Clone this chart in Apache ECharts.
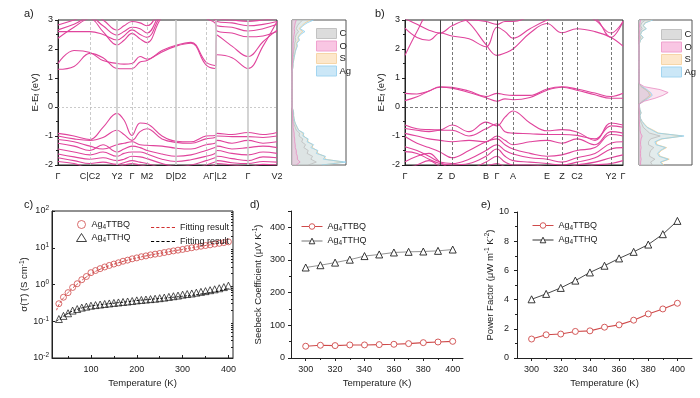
<!DOCTYPE html>
<html>
<head>
<meta charset="utf-8">
<script src="https://cdn.jsdelivr.net/npm/echarts@6.0.0/dist/echarts.min.js"></script>
<style>
  html, body { margin: 0; padding: 0; background: #fff; }
  #chart { width: 700px; height: 398px; }
</style>
</head>
<body>
<div id="chart"></div>
<script>
// ---- a) band structure + DOS ----
var kA = [0, 16, 32, 45, 59, 66, 74, 82, 89, 104, 118, 133, 148, 157, 159, 174, 190, 205, 219];
var kTicksA = [0, 32, 59, 74, 89, 118, 157, 190, 219];
var kNamesA = ['Γ', 'C|C2', 'Y2', 'Γ', 'M2', 'D|D2', 'AΓ|L2', 'Γ', 'V2'];
var kLinesA = [32, 59, 74, 89, 118, 148, 158, 190];
var kSolidA = [0, 1, 0, 0, 1, 0, 1, 1];
var bandsA = [
  [1.30, 1.40, 1.85, 1.70, 1.33, 1.32, 1.32, 1.55, 1.60, 1.90, 2.10, 2.20, 1.45, 1.33, 1.80, 1.70, 1.33, 2.10, 2.95],
  [1.50, 1.95, 1.88, 1.60, 1.50, 1.48, 1.50, 1.74, 1.65, 1.95, 2.13, 2.23, 1.55, 1.43, 2.48, 2.10, 1.74, 2.25, 2.65],
  [2.37, 2.75, 3.05, 2.60, 2.14, 2.30, 2.54, 2.35, 2.22, 3.10, 3.30, 3.30, 3.05, 2.90, 2.62, 2.55, 2.42, 2.45, 2.60],
  [2.60, 2.60, 2.60, 2.50, 2.31, 2.45, 2.66, 2.50, 2.40, 3.20, 3.40, 3.40, 3.20, 3.00, 2.80, 2.75, 2.62, 2.70, 2.85],
  [2.66, 2.85, 3.10, 2.80, 2.48, 2.60, 2.75, 2.70, 2.55, 3.30, 3.50, 3.50, 3.30, 3.10, 2.95, 2.90, 2.80, 2.85, 2.95],
  [2.83, 3.00, 3.20, 3.00, 2.65, 2.80, 2.95, 2.90, 2.80, 3.40, 3.60, 3.60, 3.40, 3.20, 3.05, 3.00, 2.95, 3.00, 3.05],
  [-0.91, -1.00, -1.12, -0.70, -0.22, -0.45, -0.98, -0.55, -0.58, -1.00, -1.18, -1.20, -1.00, -0.98, -0.91, -0.95, -0.88, -0.95, -0.88],
  [-1.00, -1.10, -1.15, -1.05, -0.80, -0.95, -1.15, -0.85, -0.75, -1.10, -1.22, -1.25, -1.10, -1.05, -1.00, -1.02, -1.02, -1.05, -1.00],
  [-1.12, -1.20, -1.35, -1.45, -1.30, -1.25, -1.20, -1.30, -1.32, -1.35, -1.42, -1.45, -1.30, -1.25, -1.15, -1.25, -1.15, -1.25, -1.20],
  [-1.25, -1.35, -1.50, -1.30, -1.55, -1.45, -1.35, -1.40, -1.50, -1.62, -1.70, -1.65, -1.50, -1.40, -1.35, -1.45, -1.40, -1.35, -1.40],
  [-1.45, -1.55, -1.65, -1.55, -1.70, -1.60, -1.55, -1.55, -1.62, -1.80, -1.88, -1.82, -1.70, -1.60, -1.50, -1.60, -1.65, -1.55, -1.60],
  [-1.62, -1.72, -1.80, -1.75, -1.85, -1.80, -1.70, -1.72, -1.78, -1.95, -2.05, -2.00, -1.85, -1.75, -1.70, -1.78, -1.85, -1.72, -1.75],
  [-1.75, -1.85, -1.95, -1.90, -1.98, -1.92, -1.85, -1.90, -1.95, -2.10, -2.20, -2.15, -2.00, -1.90, -1.85, -1.92, -1.95, -1.88, -1.90],
  [-1.88, -1.95, -2.10, -2.05, -2.05, -2.00, -1.95, -2.00, -2.05, -2.20, -2.30, -2.25, -2.10, -2.00, -1.95, -2.00, -2.05, -1.98, -2.00]
];

// ---- b) band structure + DOS ----
var kB = [0, 12, 24, 35, 47, 64, 81, 92, 100, 108, 125, 142, 157, 172, 190, 206, 218];
var kTicksB = [0, 35, 47, 81, 92, 108, 142, 157, 172, 206, 218];
var kNamesB = ['Γ', 'Z', 'D', 'B', 'Γ', 'A', 'E', 'Z', 'C2', 'Y2', 'Γ'];
var kLinesB = [35, 47, 81, 92, 108, 142, 157, 172, 206];
var kSolidB = [1, 0, 0, 1, 0, 0, 0, 0, 0];
var bandsB = [
  [1.78, 2.60, 3.30, 3.40, 3.30, 2.90, 2.15, 1.78, 1.86, 2.00, 2.55, 2.88, 2.56, 2.70, 2.60, 2.40, 2.10],
  [2.72, 2.40, 2.30, 2.55, 2.45, 2.35, 2.08, 2.75, 2.60, 2.37, 2.70, 3.00, 3.20, 3.20, 3.00, 2.55, 2.95],
  [3.05, 2.85, 2.65, 2.55, 2.80, 3.00, 2.95, 2.85, 2.95, 2.95, 3.10, 3.20, 3.30, 3.30, 3.10, 2.40, 2.95],
  [0.47, 0.45, 0.55, 0.70, 0.68, 0.55, 0.36, 0.47, 0.42, 0.40, 0.40, 0.62, 0.70, 0.62, 0.48, 0.36, 0.47],
  [0.22, 0.35, 0.55, 0.68, 0.65, 0.50, 0.32, 0.20, 0.28, 0.25, 0.33, 0.58, 0.68, 0.58, 0.42, 0.30, 0.30],
  [-0.62, -0.75, -0.78, -0.79, -0.62, -0.85, -0.52, -0.65, -0.35, -0.14, -0.55, -0.82, -0.78, -0.86, -1.15, -0.55, -0.62],
  [-0.74, -0.80, -0.85, -0.80, -0.80, -1.00, -0.75, -0.58, -0.85, -0.90, -0.92, -0.95, -0.95, -0.98, -1.10, -0.65, -0.70],
  [-0.91, -1.00, -1.10, -1.15, -1.20, -1.15, -1.20, -1.00, -1.15, -1.30, -1.20, -1.15, -1.25, -1.10, -1.30, -0.85, -0.90],
  [-1.02, -1.25, -1.40, -1.55, -1.75, -1.50, -1.20, -1.10, -1.30, -1.45, -1.60, -1.70, -1.65, -1.50, -1.40, -0.95, -1.00],
  [-1.37, -1.50, -1.70, -1.90, -1.95, -1.80, -1.50, -1.30, -1.50, -1.62, -1.75, -1.80, -1.90, -1.75, -1.60, -1.25, -1.20],
  [-1.54, -1.60, -1.80, -1.95, -2.00, -1.95, -1.70, -1.45, -1.70, -1.85, -1.90, -1.95, -2.00, -1.90, -1.75, -1.45, -1.40],
  [-1.89, -1.70, -1.60, -1.90, -2.10, -2.10, -1.90, -1.70, -1.90, -2.00, -2.00, -2.05, -2.10, -2.00, -1.90, -1.75, -1.65],
  [-2.10, -2.00, -1.85, -2.05, -2.20, -2.20, -2.05, -1.95, -2.05, -2.10, -2.10, -2.15, -2.20, -2.10, -2.00, -1.95, -1.85]
];

// DOS energy grid (eV) and projected DOS (% of panel width)
var dosE = [-2.0, -1.9, -1.8, -1.7, -1.6, -1.5, -1.4, -1.3, -1.2, -1.1, -1.0, -0.9, -0.8, -0.7, -0.6, -0.5, -0.4, -0.3, -0.2, -0.1,
  0.0, 0.1, 0.2, 0.3, 0.4, 0.5, 0.6, 0.7, 0.8, 0.9, 1.0, 1.1, 1.2, 1.3, 1.4, 1.5, 1.6, 1.7, 1.8, 1.9,
  2.0, 2.1, 2.2, 2.3, 2.4, 2.5, 2.6, 2.7, 2.8, 2.9, 3.0];
var dosAgA = [55, 100, 58, 62, 45, 48, 35, 40, 28, 30, 20, 22, 12, 10, 7, 5, 4, 3, 3, 2, 0, 0, 0, 0, 0, 0, 0, 0, 0, 0, 0, 0, 0, 1, 2, 2, 3, 4, 5, 6, 8, 10, 9, 14, 12, 16, 24, 15, 20, 28, 40];
var dosCA = [30, 45, 35, 38, 28, 30, 22, 25, 18, 20, 13, 14, 8, 6, 4, 3, 2, 2, 2, 1, 0, 0, 0, 0, 0, 0, 0, 0, 0, 0, 0, 0, 0, 0, 1, 1, 2, 2, 3, 3, 4, 5, 5, 7, 6, 8, 12, 8, 10, 14, 20];
var dosOA = [8, 15, 10, 10, 8, 8, 6, 6, 5, 5, 4, 4, 3, 2, 2, 1, 1, 1, 1, 0, 0, 0, 0, 0, 0, 0, 0, 0, 0, 0, 0, 0, 0, 0, 0, 1, 1, 1, 1, 2, 2, 2, 2, 3, 3, 4, 5, 4, 5, 6, 8];
var dosSA = [58, 95, 62, 60, 48, 46, 38, 38, 30, 28, 22, 20, 13, 9, 7, 5, 4, 3, 3, 2, 0, 0, 0, 0, 0, 0, 0, 0, 0, 0, 0, 0, 0, 1, 2, 2, 3, 4, 5, 6, 7, 9, 8, 12, 11, 14, 20, 13, 18, 24, 34];
var dosAgB = [45, 40, 55, 38, 35, 40, 50, 32, 30, 42, 85, 35, 25, 15, 10, 6, 3, 2, 4, 2, 1, 1, 8, 18, 25, 22, 15, 6, 1, 0, 0, 0, 0, 0, 0, 0, 0, 0, 0, 0, 0, 0, 1, 3, 8, 3, 5, 14, 8, 12, 26];
var dosCB = [25, 22, 30, 20, 20, 22, 28, 18, 18, 22, 40, 20, 14, 8, 6, 3, 2, 1, 2, 1, 0, 0, 6, 14, 20, 18, 12, 4, 0, 0, 0, 0, 0, 0, 0, 0, 0, 0, 0, 0, 0, 0, 0, 1, 3, 1, 2, 6, 3, 5, 12];
var dosOB = [3, 3, 4, 3, 3, 3, 4, 3, 3, 4, 6, 3, 2, 2, 1, 1, 0, 0, 1, 0, 0, 0, 10, 30, 45, 55, 40, 10, 1, 0, 0, 0, 0, 0, 0, 0, 0, 0, 0, 0, 0, 0, 0, 0, 1, 0, 1, 2, 1, 2, 3];
var dosSB = [47, 42, 57, 40, 37, 42, 52, 34, 32, 44, 82, 37, 27, 16, 11, 6, 3, 2, 4, 2, 1, 1, 8, 16, 22, 20, 13, 5, 1, 0, 0, 0, 0, 0, 0, 0, 0, 0, 0, 0, 0, 0, 1, 3, 7, 3, 5, 13, 8, 11, 24];

// ---- c) conductivity vs temperature ----
var tempC = [30, 40, 50, 60, 70, 80, 90, 100, 110, 120, 130, 140, 150, 160, 170, 180, 190, 200, 210, 220,
  230, 240, 250, 260, 270, 280, 290, 300, 310, 320, 330, 340, 350, 360, 370, 380, 390, 400];
var sigmaBQ = [0.3, 0.45, 0.6, 0.83, 1.05, 1.35, 1.65, 2.1, 2.4, 2.7, 3.0, 3.3, 3.6, 3.9, 4.3, 4.6, 5.0, 5.3, 5.7, 6.0,
  6.4, 6.7, 7.0, 7.4, 7.8, 8.2, 8.6, 9.0, 9.5, 10.0, 10.5, 11.0, 11.5, 12.0, 12.6, 13.2, 13.8, 14.5];
var sigmaHQ = [0.115, 0.14, 0.165, 0.195, 0.215, 0.235, 0.25, 0.265, 0.275, 0.285, 0.295, 0.305, 0.315, 0.325, 0.335, 0.345, 0.355, 0.37, 0.38, 0.39,
  0.40, 0.41, 0.425, 0.44, 0.46, 0.48, 0.50, 0.53, 0.55, 0.57, 0.60, 0.63, 0.66, 0.70, 0.74, 0.79, 0.85, 0.93];
var fitT = [25, 30, 40, 50, 60, 70, 80, 90, 100, 120, 140, 160, 180, 200, 220, 240, 260, 280, 300, 320, 340, 360, 380, 400];
var fitBQ = [0.2, 0.28, 0.43, 0.6, 0.8, 1.02, 1.3, 1.6, 1.95, 2.6, 3.25, 3.9, 4.6, 5.3, 6.0, 6.7, 7.4, 8.2, 9.0, 10.0, 11.0, 12.0, 13.1, 14.3];
var fitHQ = [0.1, 0.112, 0.138, 0.163, 0.19, 0.21, 0.23, 0.245, 0.26, 0.28, 0.3, 0.32, 0.34, 0.365, 0.385, 0.405, 0.425, 0.45, 0.48, 0.51, 0.55, 0.6, 0.67, 0.78];

// ---- d) Seebeck, e) power factor ----
var tempDE = [300, 310, 320, 330, 340, 350, 360, 370, 380, 390, 400];
var seebeckBQ = [36, 39, 38, 40, 40, 41, 42, 44, 47, 49, 51];
var seebeckHQ = [277, 284, 292, 301, 312, 317, 323, 325, 326, 328, 332];
var pfBQ = [1.3, 1.59, 1.64, 1.82, 1.86, 2.11, 2.27, 2.59, 3.02, 3.36, 3.75];
var pfHQ = [4.02, 4.39, 4.8, 5.3, 5.86, 6.32, 6.82, 7.27, 7.77, 8.48, 9.39];
var tempTicks = [300, 320, 340, 360, 380, 400];
var tempMinor = [310, 330, 350, 370, 390];

var FONT = 'Liberation Sans, Arial, sans-serif';
var INK = '#222';
var PINK = '#e0449c';
var RED = '#cf4a4a';
var DASH_ICON = 'path://M0,0h3v1h-3z M5,0h3v1h-3z M10,0h3v1h-3z M15,0h3v1h-3z M20,0h3v1h-3z';

var rich = {
  n: { fontSize: 9.5, fontFamily: FONT, color: INK },
  t: { fontSize: 9, fontFamily: FONT, color: INK },
  s: { fontSize: 6.5, fontFamily: FONT, color: INK, verticalAlign: 'bottom', padding: [5, 0, 0, 0] },
  p: { fontSize: 6.5, fontFamily: FONT, color: INK, verticalAlign: 'top', padding: [0, 0, 5, 0] }
};

var legendText = {
  cTTBQ: '{t|Ag}{s|4}{t|TTBQ}', cTTHQ: '{t|Ag}{s|4}{t|TTHQ}',
  dTTBQ: '{t|Ag}{s|4}{t|TTBQ}', dTTHQ: '{t|Ag}{s|4}{t|TTHQ}',
  eTTBQ: '{t|Ag}{s|4}{t|TTBQ}', eTTHQ: '{t|Ag}{s|4}{t|TTHQ}',
  fitA: '{t|Fitting result}', fitB: '{t|Fitting result}'
};

function kMarks(lines, solid, cSolid, cDash, wSolid, fermi, fermiDash) {
  var d = lines.map(function (k, i) {
    return {
      xAxis: k,
      lineStyle: solid[i]
        ? { color: cSolid, type: 'solid', width: wSolid }
        : { color: cDash, type: [3, 2], width: 0.8 }
    };
  });
  d.push({ yAxis: 0, lineStyle: { color: fermi, type: fermiDash, width: 0.8 } });
  return { symbol: ['none', 'none'], silent: true, label: { show: false }, data: d };
}

function bandSeries(idx, k, bands, marks) {
  return bands.map(function (b, j) {
    var s = {
      type: 'line', xAxisIndex: idx, yAxisIndex: idx,
      data: b.map(function (e, i) { return [k[i], e]; }),
      smooth: 0.4, symbol: 'none', silent: true,
      lineStyle: { color: PINK, width: 1.1 }
    };
    if (j === 0) s.markLine = marks;
    return s;
  });
}

var dosStyle = {
  C: { line: '#bdbdbd', area: 'rgba(200,200,200,0.28)' },
  O: { line: '#e98cc2', area: 'rgba(242,170,210,0.45)' },
  S: { line: '#f2cc90', area: 'rgba(251,226,188,0.6)' },
  Ag: { line: '#8fd0f0', area: 'rgba(190,227,247,0.6)' }
};

function dosSeries(idx, name, vals) {
  return {
    type: 'line', name: name, xAxisIndex: idx, yAxisIndex: idx,
    data: vals, symbol: 'none', silent: true,
    lineStyle: { color: dosStyle[name].line, width: 0.8 },
    itemStyle: { color: dosStyle[name].line },
    areaStyle: { color: dosStyle[name].area }
  };
}

function dosLegend(left, top) {
  return {
    left: left, top: top, orient: 'vertical', icon: 'rect',
    itemWidth: 20, itemHeight: 10, itemGap: 1.5, selectedMode: false,
    textStyle: { fontFamily: FONT, fontSize: 9.5, color: INK, padding: [0, 0, 0, -2] },
    data: [
      { name: 'C', itemStyle: { color: '#dcdcdc', borderColor: '#c2c2c2', borderWidth: 1 } },
      { name: 'O', itemStyle: { color: '#f9c6e3', borderColor: '#f0a2cf', borderWidth: 1 } },
      { name: 'S', itemStyle: { color: '#fde7cb', borderColor: '#f6d6a8', borderWidth: 1 } },
      { name: 'Ag', itemStyle: { color: '#cbe7f7', borderColor: '#a3d5f0', borderWidth: 1 } }
    ]
  };
}

function plotLegend(left, top, names, w) {
  return {
    left: left, top: top, orient: 'vertical', itemGap: 4,
    itemWidth: w, itemHeight: 7, selectedMode: false,
    itemStyle: { borderWidth: 0.9 },
    lineStyle: { width: 1 },
    formatter: function (n) { return legendText[n]; },
    textStyle: { fontFamily: FONT, fontSize: 9, color: INK, rich: rich },
    data: names
  };
}

function bandX(idx, max, ticks, names) {
  return {
    gridIndex: idx, type: 'value', min: 0, max: max,
    axisLine: { onZero: false, lineStyle: { color: INK, width: 1 } },
    axisTick: { show: false }, splitLine: { show: false },
    axisLabel: {
      customValues: ticks, margin: 7, fontSize: 9, color: INK, fontFamily: FONT,
      formatter: function (v) { return names[ticks.indexOf(v)]; }
    }
  };
}

function bandY(idx, gap) {
  return {
    gridIndex: idx, type: 'value', min: -2, max: 3, interval: 1,
    name: '{n|E-E}{s|f}{n| (eV)}', nameLocation: 'middle', nameGap: gap,
    nameTextStyle: { rich: rich },
    axisLine: { show: true, onZero: false, lineStyle: { color: INK, width: 1 } },
    axisTick: { length: 3, lineStyle: { color: INK } },
    minorTick: { show: true, splitNumber: 2, length: 2, lineStyle: { color: INK } },
    splitLine: { show: false },
    axisLabel: { fontSize: 9, color: INK, fontFamily: FONT, margin: 5 }
  };
}

function tempX(idx, min, max, labels, inside) {
  return {
    gridIndex: idx, type: 'value', min: min, max: max,
    name: 'Temperature (K)', nameLocation: 'middle', nameGap: 20,
    nameTextStyle: { fontSize: 9.5, color: INK, fontFamily: FONT },
    axisLine: { onZero: false, lineStyle: { color: INK, width: 1 } },
    axisTick: { customValues: labels, inside: inside, length: 3, lineStyle: { color: INK } },
    splitLine: { show: false },
    axisLabel: { customValues: labels, fontSize: 9, color: INK, fontFamily: FONT, margin: 7 }
  };
}

function minorX(idx, min, max, ticks, inside) {
  return {
    gridIndex: idx, type: 'value', min: min, max: max, position: 'bottom',
    axisLine: { show: false, onZero: false }, axisLabel: { show: false }, splitLine: { show: false },
    axisTick: { customValues: ticks, inside: inside, length: 2, lineStyle: { color: INK } }
  };
}

var logMinor = [];
[0.01, 0.1, 1, 10].forEach(function (d) {
  for (var m = 2; m <= 9; m++) logMinor.push(+(d * m).toPrecision(3));
});

function markerLine(name, idx, ys, sym, size, mColor, lColor, lWidth) {
  return {
    type: 'line', name: name, xAxisIndex: idx, yAxisIndex: idx, symbol: sym, symbolSize: size,
    data: tempDE.map(function (t, i) { return [t, ys[i]]; }),
    itemStyle: { color: '#fff', borderColor: mColor, borderWidth: 0.9 },
    lineStyle: { color: lColor, width: lWidth }
  };
}

var series = []
  .concat(bandSeries(0, kA, bandsA, kMarks(kLinesA, kSolidA, '#c9c9c9', '#bcbcbc', 1.6, '#bdbdbd', [2, 2])))
  .concat([dosSeries(1, 'S', dosSA), dosSeries(1, 'Ag', dosAgA), dosSeries(1, 'C', dosCA), dosSeries(1, 'O', dosOA)])
  .concat(bandSeries(2, kB, bandsB, kMarks(kLinesB, kSolidB, '#444', '#555', 1, '#555', [3, 2])))
  .concat([dosSeries(3, 'S', dosSB), dosSeries(3, 'Ag', dosAgB), dosSeries(3, 'C', dosCB), dosSeries(3, 'O', dosOB)])
  .concat([
    {
      type: 'scatter', name: 'cTTBQ', xAxisIndex: 4, yAxisIndex: 4, symbol: 'circle', symbolSize: 6,
      data: tempC.map(function (t, i) { return [t, sigmaBQ[i]]; }),
      itemStyle: { color: 'rgba(0,0,0,0)', borderColor: RED, borderWidth: 1 }
    },
    {
      type: 'scatter', name: 'cTTHQ', xAxisIndex: 4, yAxisIndex: 4, symbol: 'triangle', symbolSize: 7,
      data: tempC.map(function (t, i) { return [t, sigmaHQ[i]]; }),
      itemStyle: { color: 'rgba(0,0,0,0)', borderColor: '#111', borderWidth: 0.9 }
    },
    {
      type: 'line', name: 'fitA', xAxisIndex: 4, yAxisIndex: 4, symbol: 'none', smooth: true,
      data: fitT.map(function (t, i) { return [t, fitBQ[i]]; }),
      itemStyle: { color: RED }, lineStyle: { color: RED, width: 1, type: [2.5, 1.5] }
    },
    {
      type: 'line', name: 'fitB', xAxisIndex: 4, yAxisIndex: 4, symbol: 'none', smooth: true,
      data: fitT.map(function (t, i) { return [t, fitHQ[i]]; }),
      itemStyle: { color: '#111' }, lineStyle: { color: '#111', width: 1, type: [2.5, 1.5] }
    },
    markerLine('dTTBQ', 5, seebeckBQ, 'circle', 6, RED, RED, 1.1),
    markerLine('dTTHQ', 5, seebeckHQ, 'triangle', 7, '#222', '#777', 0.8),
    markerLine('eTTBQ', 6, pfBQ, 'circle', 6, RED, RED, 1.1),
    markerLine('eTTHQ', 6, pfHQ, 'triangle', 7, '#222', '#333', 0.9)
  ]);

var option = {
  animation: false,
  backgroundColor: '#fff',
  textStyle: { fontFamily: FONT, color: INK },
  title: [
    { text: 'a)', left: 19, top: 3 },
    { text: 'b)', left: 370, top: 3 },
    { text: 'c)', left: 19, top: 194 },
    { text: 'd)', left: 245, top: 194 },
    { text: 'e)', left: 476, top: 194 }
  ].map(function (t) {
    t.textStyle = { fontSize: 11, fontWeight: 'normal', color: INK, fontFamily: FONT };
    return t;
  }),
  legend: [
    dosLegend(311, 23),
    dosLegend(656, 24),
    {
      left: 71, top: 215, orient: 'vertical', itemGap: 2.5, itemWidth: 10, itemHeight: 8, selectedMode: false,
      formatter: function (n) { return legendText[n]; },
      textStyle: { fontFamily: FONT, fontSize: 9, color: INK, rich: rich },
      data: [
        { name: 'cTTBQ', icon: 'circle', itemStyle: { color: 'rgba(0,0,0,0)', borderColor: RED, borderWidth: 1 } },
        { name: 'cTTHQ', icon: 'triangle', itemStyle: { color: 'rgba(0,0,0,0)', borderColor: '#111', borderWidth: 1 } }
      ]
    },
    {
      left: 146, top: 217, orient: 'vertical', itemGap: 3, itemWidth: 24, itemHeight: 1.5, selectedMode: false,
      formatter: function (n) { return legendText[n]; },
      textStyle: { fontFamily: FONT, fontSize: 9, color: INK, rich: rich, lineHeight: 11 },
      data: [
        { name: 'fitA', icon: DASH_ICON, itemStyle: { color: '#d03030', borderWidth: 0 } },
        { name: 'fitB', icon: DASH_ICON, itemStyle: { color: '#000', borderWidth: 0 } }
      ]
    },
    plotLegend(296, 217, ['dTTBQ', 'dTTHQ'], 21),
    plotLegend(527, 216, ['eTTBQ', 'eTTHQ'], 21)
  ],
  grid: [
    { left: 58, top: 20, width: 219, height: 145, show: true, borderColor: INK, borderWidth: 1 },
    { left: 292, top: 20, width: 54, height: 145, show: true, borderColor: '#555', borderWidth: 1 },
    { left: 405, top: 20, width: 218, height: 145, show: true, borderColor: INK, borderWidth: 1 },
    { left: 639, top: 20, width: 53, height: 145, show: true, borderColor: '#555', borderWidth: 1 },
    { left: 52, top: 211, width: 181, height: 147, show: true, borderColor: INK, borderWidth: 1 },
    { left: 291, top: 211, width: 172, height: 147 },
    { left: 517, top: 212, width: 175, height: 146 }
  ],
  xAxis: [
    bandX(0, 219, kTicksA, kNamesA),
    { gridIndex: 1, type: 'value', min: 0, max: 100, show: false },
    bandX(2, 218, kTicksB, kNamesB),
    { gridIndex: 3, type: 'value', min: 0, max: 100, show: false },
    tempX(4, 15, 410, [100, 200, 300, 400], true),
    tempX(5, 290, 407, tempTicks, false),
    tempX(6, 290, 410, tempTicks, false),
    minorX(4, 15, 410, [50, 150, 250, 350], true),
    minorX(5, 290, 407, tempMinor, false),
    minorX(6, 290, 410, tempMinor, false)
  ],
  yAxis: [
    bandY(0, 17),
    { gridIndex: 1, type: 'category', data: dosE, boundaryGap: false, show: false },
    bandY(2, 18),
    { gridIndex: 3, type: 'category', data: dosE, boundaryGap: false, show: false },
    {
      gridIndex: 4, type: 'log', logBase: 10, min: 0.01, max: 100,
      name: '{n|σ(T) (S cm}{p|-1}{n|)}', nameLocation: 'middle', nameGap: 15,
      nameTextStyle: { rich: rich },
      axisLine: { lineStyle: { color: INK, width: 1 } },
      axisTick: { inside: true, length: 3, lineStyle: { color: INK } },
      splitLine: { show: false },
      axisLabel: {
        fontSize: 9, color: INK, fontFamily: FONT, margin: 3, rich: rich,
        formatter: function (v) { return '{t|10}{p|' + Math.round(Math.log10(v)) + '}'; }
      }
    },
    {
      gridIndex: 5, type: 'value', min: 0, max: 450, interval: 100,
      name: '{n|Seebeck Coefficient (μV K}{p|-1}{n|)}', nameLocation: 'middle', nameGap: 27,
      nameTextStyle: { rich: rich },
      axisLine: { show: true, onZero: false, lineStyle: { color: INK, width: 1 } },
      axisTick: { length: 3, lineStyle: { color: INK } },
      minorTick: { show: true, splitNumber: 2, length: 2, lineStyle: { color: INK } },
      splitLine: { show: false },
      axisLabel: { fontSize: 9, color: INK, fontFamily: FONT, margin: 6, showMaxLabel: false }
    },
    {
      gridIndex: 6, type: 'value', min: 0, max: 10, interval: 2,
      name: '{n|Power Factor (μW m}{p|-1}{n| K}{p|-2}{n|)}', nameLocation: 'middle', nameGap: 20,
      nameTextStyle: { rich: rich },
      axisLine: { show: true, onZero: false, lineStyle: { color: INK, width: 1 } },
      axisTick: { length: 3, lineStyle: { color: INK } },
      minorTick: { show: true, splitNumber: 2, length: 2, lineStyle: { color: INK } },
      splitLine: { show: false },
      axisLabel: { fontSize: 9, color: INK, fontFamily: FONT, margin: 8 }
    },
    {
      gridIndex: 4, type: 'log', logBase: 10, min: 0.01, max: 100,
      axisLine: { show: false }, axisLabel: { show: false }, splitLine: { show: false },
      axisTick: { customValues: logMinor, inside: true, length: 2, lineStyle: { color: INK } }
    }
  ],
  series: series
};

var chart = echarts.init(document.getElementById('chart'));
chart.setOption(option);
</script>
</body>
</html>
